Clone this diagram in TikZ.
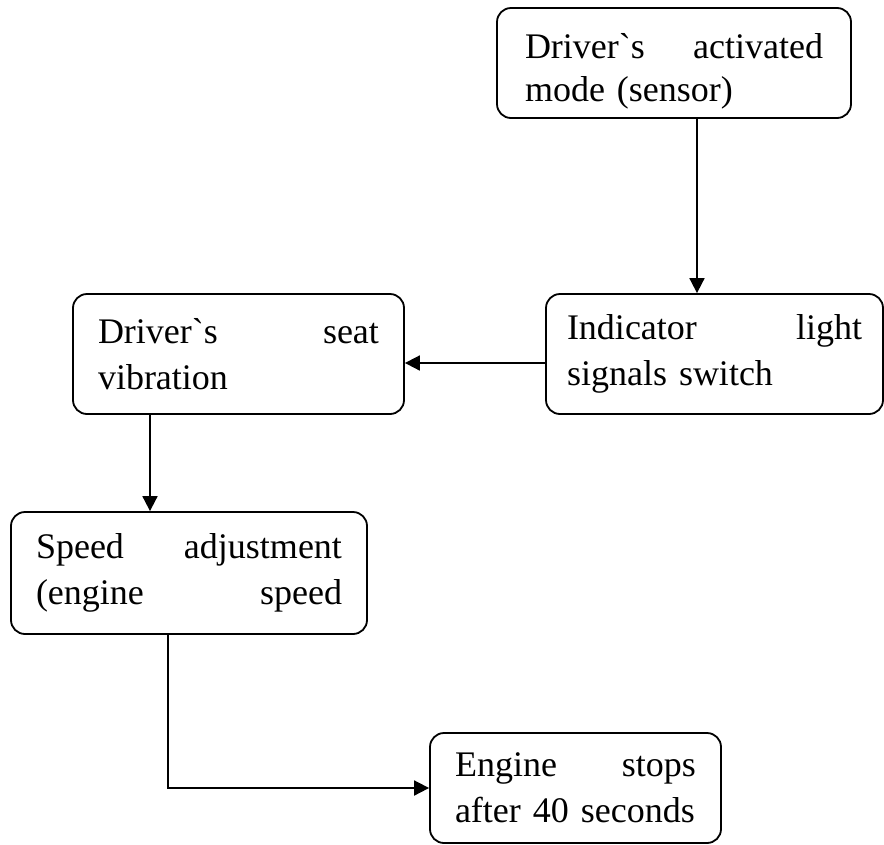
\documentclass[tikz,border=0pt]{standalone}
\usepackage{fontspec}
\setmainfont{Liberation Serif}[Ligatures=TeXOff]
\usetikzlibrary{arrows.meta}
\newcommand{\gravech}{\symbol{96}}
\begin{document}
\begin{tikzpicture}[x=1pt,y=-1pt,
  flowbox/.style={draw, line width=1.8pt, rounded corners=14pt, align=left,
    font=\fontsize{36}{46}\selectfont, inner ysep=0pt},
  arr/.style={line width=1.8pt, -{Triangle[length=15pt,width=15pt]}}]
\useasboundingbox (0,0) rectangle (884,844);
\node[flowbox, minimum width=354pt, minimum height=110pt, inner xsep=28pt, text width=298pt, font=\fontsize{36}{43}\selectfont, text height=42pt] (b1) at (674,63) {Driver\gravech s\hfill activated\\mode (sensor)};
\node[flowbox, minimum width=337pt, minimum height=120pt, inner xsep=21pt, text width=295pt] (b2) at (714.5,354) {Indicator\hfill light\\signals switch};
\node[flowbox, minimum width=331pt, minimum height=120pt, inner xsep=25pt, text width=281pt] (b3) at (238.5,354) {Driver\gravech s\hfill seat\\vibration};
\node[flowbox, minimum width=356pt, minimum height=122pt, inner xsep=25pt, text width=306pt] (b4) at (189,573) {Speed\hfill adjustment\\(engine\hfill speed};
\node[flowbox, minimum width=291pt, minimum height=110pt, inner xsep=25pt, text width=241pt] (b5) at (575.5,788) {Engine\hfill stops\\after 40 seconds};
\coordinate (x1) at (697,0);
\coordinate (y2) at (0,363);
\coordinate (x3) at (150,0);
\coordinate (x4) at (168,0);
\draw[arr] (b1.south -| x1) -- (b2.north -| x1);
\draw[arr] (b2.west |- y2) -- (b3.east |- y2);
\draw[arr] (b3.south -| x3) -- (b4.north -| x3);
\draw[arr, rounded corners=0pt] (b4.south -| x4) |- (b5.west);
\end{tikzpicture}
\end{document}
